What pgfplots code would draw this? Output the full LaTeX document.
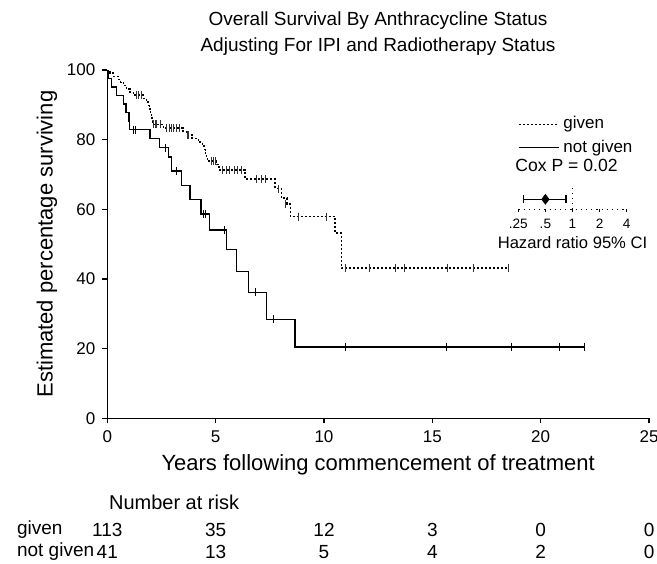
\documentclass[border=0pt]{standalone}
\usepackage{fontspec}
\setmainfont{Liberation Sans}
\usepackage{pgfplots}
\usepackage{pgfplotstable}
\pgfplotsset{compat=1.18}

% survival steps: time (years), percentage surviving after the step
\pgfplotstableread{
t s
0 100
0.12 99.1
0.28 98.2
0.51 97.3
0.62 96.4
0.74 95.5
0.89 94.6
1.05 93.7
1.20 92.8
1.66 91.8
1.82 90.8
1.89 89.8
1.95 88.8
2.00 87.7
2.03 86.6
2.06 85.5
2.10 84.4
2.60 83.4
3.50 82.4
3.65 81.4
3.90 80.4
4.20 79.3
4.40 78.2
4.48 77.1
4.53 76.0
4.57 74.9
4.62 73.9
5.05 72.8
5.15 71.3
6.35 68.7
7.74 65.9
8.05 63.2
8.30 61.5
8.45 57.9
10.51 53.2
10.82 43.2
18.50 43.2
}\given

\pgfplotstableread{
t s
1.36 92.8
1.45 92.8
1.59 92.8
2.15 84.4
2.20 84.4
2.25 84.4
2.45 84.4
2.75 83.4
2.85 83.4
2.95 83.4
3.05 83.4
3.20 83.4
3.35 83.4
3.68 81.4
3.75 81.4
4.82 73.9
4.90 73.9
4.97 73.9
5.30 71.3
5.50 71.3
5.65 71.3
5.85 71.3
6.00 71.3
6.20 71.3
6.90 68.7
7.10 68.7
7.30 68.7
7.90 65.9
8.22 61.5
8.81 57.9
10.10 57.9
11.00 43.2
12.08 43.2
13.30 43.2
13.69 43.2
15.70 43.2
16.90 43.2
18.50 43.2
}\givencens

\pgfplotstableread{
t s
0 100
0.05 97.6
0.20 95.1
0.43 92.7
0.74 90.2
0.86 87.8
1.00 85.4
1.02 82.9
1.97 80.3
2.40 77.7
2.82 75.0
2.95 71.0
3.43 66.8
3.82 62.9
4.32 58.7
4.71 54.1
5.51 48.4
5.97 42.1
6.51 36.2
7.36 28.4
8.66 20.5
22.04 20.5
}\notgiven

\pgfplotstableread{
t s
1.20 82.9
1.28 82.9
2.66 77.7
3.20 71.0
4.45 58.7
4.52 58.7
5.39 54.1
6.85 36.2
7.66 28.4
11.00 20.5
15.66 20.5
18.66 20.5
20.85 20.5
22.04 20.5
}\notgivencens

\begin{document}
\begin{tikzpicture}
\useasboundingbox (0,0) rectangle (328.5pt,281.5pt);

% title
\node[align=center, font=\fontsize{9.5}{13}\selectfont] at (189pt,264.5pt)
  {Overall Survival By Anthracycline Status\\Adjusting For IPI and Radiotherapy Status};

\begin{axis}[
    at={(53.65pt,72.35pt)}, anchor=south west,
    width=270.85pt, height=174.15pt, scale only axis,
    xmin=0, xmax=25, ymin=0, ymax=100,
    axis lines=left,
    axis line style={-, line width=0.6pt},
    xtick={0,5,...,25}, ytick={0,20,...,100},
    tick align=outside, major tick length=2.5pt,
    tick style={line width=0.6pt, black},
    tick label style={font=\fontsize{8.5}{10}\selectfont},
    /pgf/number format/assume math mode=true,
    xlabel={Years following commencement of treatment},
    ylabel={Estimated percentage surviving},
    label style={font=\fontsize{11}{13}\selectfont},
    xlabel style={yshift=1pt},
    ylabel style={yshift=-2pt},
    legend image code/.code={\draw[#1] (0pt,0pt) -- (20pt,0pt);},
    legend style={at={(0.7575,0.879)}, anchor=north west, draw=none, fill=none,
      font=\fontsize{8.5}{9.7}\selectfont, inner sep=0pt, row sep=0pt},
    legend cell align=left,
]
\addplot[const plot, black, line width=0.7pt, dash pattern=on 1pt off 1pt] table {\given};
\addlegendentry{given}
\addplot[const plot, black, line width=0.7pt] table {\notgiven};
\addlegendentry{not given}
\addplot[forget plot, only marks, mark=|, mark size=2pt, mark options={solid, line width=0.4pt}, black!80] table {\givencens};
\addplot[forget plot, only marks, mark=|, mark size=2pt, mark options={solid, line width=0.4pt}, black] table {\notgivencens};
\end{axis}

\node[anchor=west, inner sep=0pt, font=\fontsize{8.8}{10}\selectfont] at (257.5pt,199pt) {Cox P = 0.02};

% hazard ratio inset
\begin{axis}[
    at={(259.15pt,176.85pt)}, anchor=south west,
    width=54.2pt, height=10.5pt, scale only axis,
    xmode=log, log basis x=2,
    xmin=0.25, xmax=4, ymin=0, ymax=1,
    axis x line=bottom, hide y axis,
    x axis line style={-, dotted, line width=0.6pt},
    xtick={0.25,0.5,1,2,4}, xticklabels={.25,.5,1,2,4},
    tick align=outside, major tick length=1.5pt,
    tick style={black, line width=0.5pt},
    tick label style={font=\fontsize{6.8}{8}\selectfont},
    /pgf/number format/assume math mode=true,
    xlabel={Hazard ratio 95\% CI},
    xlabel style={font=\fontsize{8.3}{10}\selectfont, yshift=3pt},
    clip=false,
]
\addplot[black, line width=0.6pt, mark=|, mark size=2pt] coordinates {(0.284,0.476) (0.847,0.476)};
\addplot[only marks, mark=diamond*, mark size=2.4pt, black] coordinates {(0.5,0.476)};
\addplot[black, dotted, line width=0.6pt] coordinates {(1,0) (1,1)};
\end{axis}

% number at risk
\node[anchor=west, font=\fontsize{10}{12}\selectfont] at (51pt,30.5pt) {Number at risk};
\begin{scope}[every node/.style={font=\fontsize{9.5}{11}\selectfont}]
\node[anchor=west] at (5pt,16.5pt) {given};
\node[anchor=west] at (5pt,5.5pt) {not given};
\foreach \x/\a/\b in {0/113/41, 5/35/13, 10/12/5, 15/3/4, 20/0/2, 25/0/0} {
  \node at ({53.65pt+\x*10.835pt},16.5pt) {\a};
  \node at ({53.65pt+\x*10.835pt},5.5pt) {\b};
}
\end{scope}
\end{tikzpicture}
\end{document}
